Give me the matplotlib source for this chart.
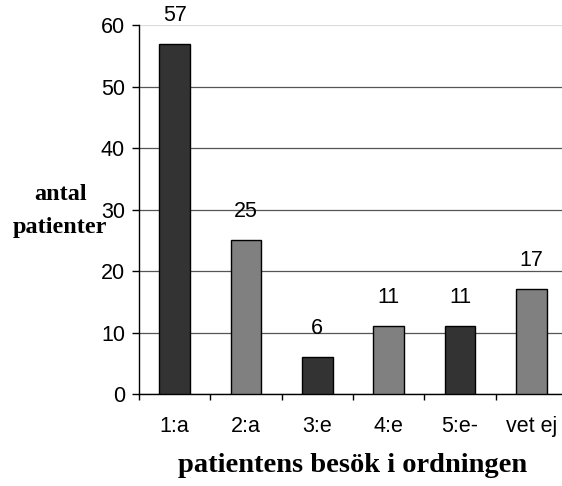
import matplotlib.pyplot as plt
import numpy as np

# visits per patient, by order
categories = ["1:a", "2:a", "3:e", "4:e", "5:e-", "vet ej"]
counts = [57, 25, 6, 11, 11, 17]
colors = ["#333333", "#808080", "#333333", "#808080", "#333333", "#808080"]
yticks = [0, 10, 20, 30, 40, 50, 60]

fig = plt.figure(figsize=(5.62, 4.86), dpi=100)
ax = fig.add_axes([0.2473, 0.1893, 0.7616, 0.759])

x = np.arange(len(categories))
bars = ax.bar(x, counts, width=0.43, color=colors, edgecolor="black",
              linewidth=1.0, zorder=3)
for b, v in zip(bars, counts):
    ax.annotate(str(v), (b.get_x() + b.get_width() / 2, v),
                xytext=(0, 13), textcoords="offset points",
                ha="center", va="bottom", fontsize=15.5,
                family="Liberation Sans")

ax.set_xlim(-0.5, len(categories) - 0.5)
ax.set_ylim(0, 60)
ax.set_yticks(yticks)
ax.set_yticklabels([str(t) for t in yticks], family="Liberation Sans",
                   fontsize=15.5)
ax.set_xticks(x)
ax.set_xticklabels(categories, family="Liberation Sans", fontsize=15.5)
ax.set_xticks(np.arange(len(categories) + 1) - 0.5, minor=True)
ax.tick_params(axis="x", which="major", length=0, pad=16)
ax.tick_params(axis="x", which="minor", length=4, width=1, direction="out")
ax.tick_params(axis="y", length=5, width=1, direction="out", pad=5)

ax.grid(axis="y", color="#555555", linewidth=0.9, zorder=0)
ax.yaxis.get_gridlines()[-1].set_color("#dddddd")
for s in ["top", "right"]:
    ax.spines[s].set_visible(False)
ax.spines["left"].set_linewidth(1.0)
ax.spines["bottom"].set_linewidth(1.0)

fig.text(0.107, 0.566, "antal\npatienter", ha="center", va="center",
         family="Liberation Serif", fontweight="bold", fontsize=17.5,
         linespacing=1.75)
fig.text(0.627, 0.043, "patientens besök i ordningen", ha="center",
         va="center", family="Liberation Serif", fontweight="bold",
         fontsize=20.5)

fig.savefig("out.png", dpi=100)
